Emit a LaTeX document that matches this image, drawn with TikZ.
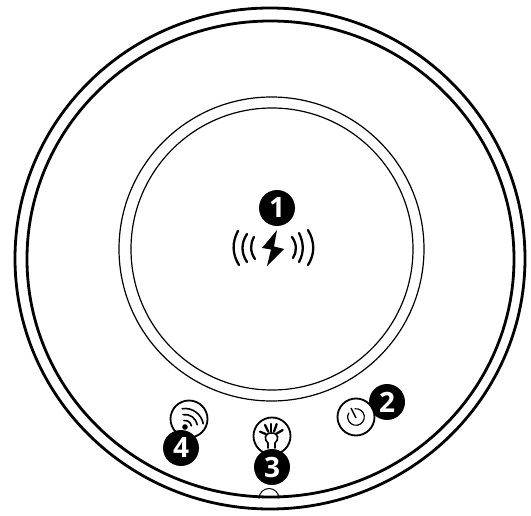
\documentclass[tikz,border=0pt]{standalone}
\usepackage{fontspec}
\setmainfont{Open Sans}
\usepackage{tikz}
\usetikzlibrary{positioning}
\tikzset{
  ringthick/.style={draw=black, line width=2.8pt},
  ringthin/.style={draw=black, line width=1.2pt},
  badge/.style={circle, fill=black, text=white, inner sep=0pt, minimum size=36pt, font=\fontsize{28}{28}\selectfont\bfseries},
  keyring/.style={circle, draw=black, fill=white, line width=1.8pt, inner sep=0pt, minimum size=37pt},
  glyph/.style={line width=1.6pt, line cap=round},
  wave/.style={line width=2.3pt, line cap=round}
}
\begin{document}
\begin{tikzpicture}[x=1pt,y=-1pt]
  \useasboundingbox (0,0) rectangle (531,516);
  % outer rim
  \draw[ringthick] (270,258.5) ellipse (255 and 250.5);
  \draw[ringthick] (270.5,259) ellipse (243.5 and 238);
  % charging pad
  \draw[ringthin] (271.5,249) ellipse (152.5 and 152);
  \draw[ringthin] (272,249) ellipse (141 and 141);
  % lightning bolt and waves
  \fill[black] (277,230) -- (262,248) -- (271,249.5) -- (267,266) -- (284,249) -- (274,246.5) -- cycle;
  \draw[wave] (238,231) .. controls (232,242) and (232,254) .. (239,265);
  \draw[wave] (247,234) .. controls (241,243) and (241,253) .. (247,262);
  \draw[wave] (254,237) .. controls (250,244) and (250,252) .. (255,259);
  \draw[wave] (292,237) .. controls (297,244) and (297,252) .. (293,258);
  \draw[wave] (299,233) .. controls (304,243) and (304,253) .. (299,262);
  \draw[wave] (308,230) .. controls (315,242) and (315,254) .. (308,265);
  % numbered badge behind the power key
  \node[badge] (two) at (387,402) {2};
  % keys
  \node[keyring] (power) at (356,417) {};
  \node[keyring] (light) at (272,436) {};
  \node[keyring] (wifi) at (189,419) {};
  % power icon
  \draw[line width=1.2pt] (356,417) ++(-100:8.3) arc (-100:210:8.3);
  \draw[line width=1.5pt] (351,408) -- (356,418);
  % lightbulb icon
  \draw[glyph] (268,448) -- (268,443) .. controls (264,440) and (264,433) .. (271.5,433) .. controls (279,433) and (279,440) .. (275,443) -- (275,448);
  \draw[wave] (270.7,424) -- (270.7,431.7);
  \draw[wave] (265,425) -- (268.3,431.7);
  \draw[wave] (276.7,424) -- (274,431.7);
  \draw[wave] (260,431.7) -- (265.7,434);
  \draw[wave] (282.7,430) -- (276,434);
  % wifi icon
  \fill[black] (185,427) circle (2.8);
  \foreach \r in {6.5,12.5,18.5}
    \draw[glyph] (185,427) ++(-99:\r) arc (-99:-10:\r);
  % numbered badges
  \node[badge] (one) at (277,208) {1};
  \node[badge] (three) at (272,467) {3};
  \node[badge] (four) at (181,448) {4};
  % charge port
  \draw[line width=1pt] (259,498.5) arc (180:360:10);
\end{tikzpicture}
\end{document}
